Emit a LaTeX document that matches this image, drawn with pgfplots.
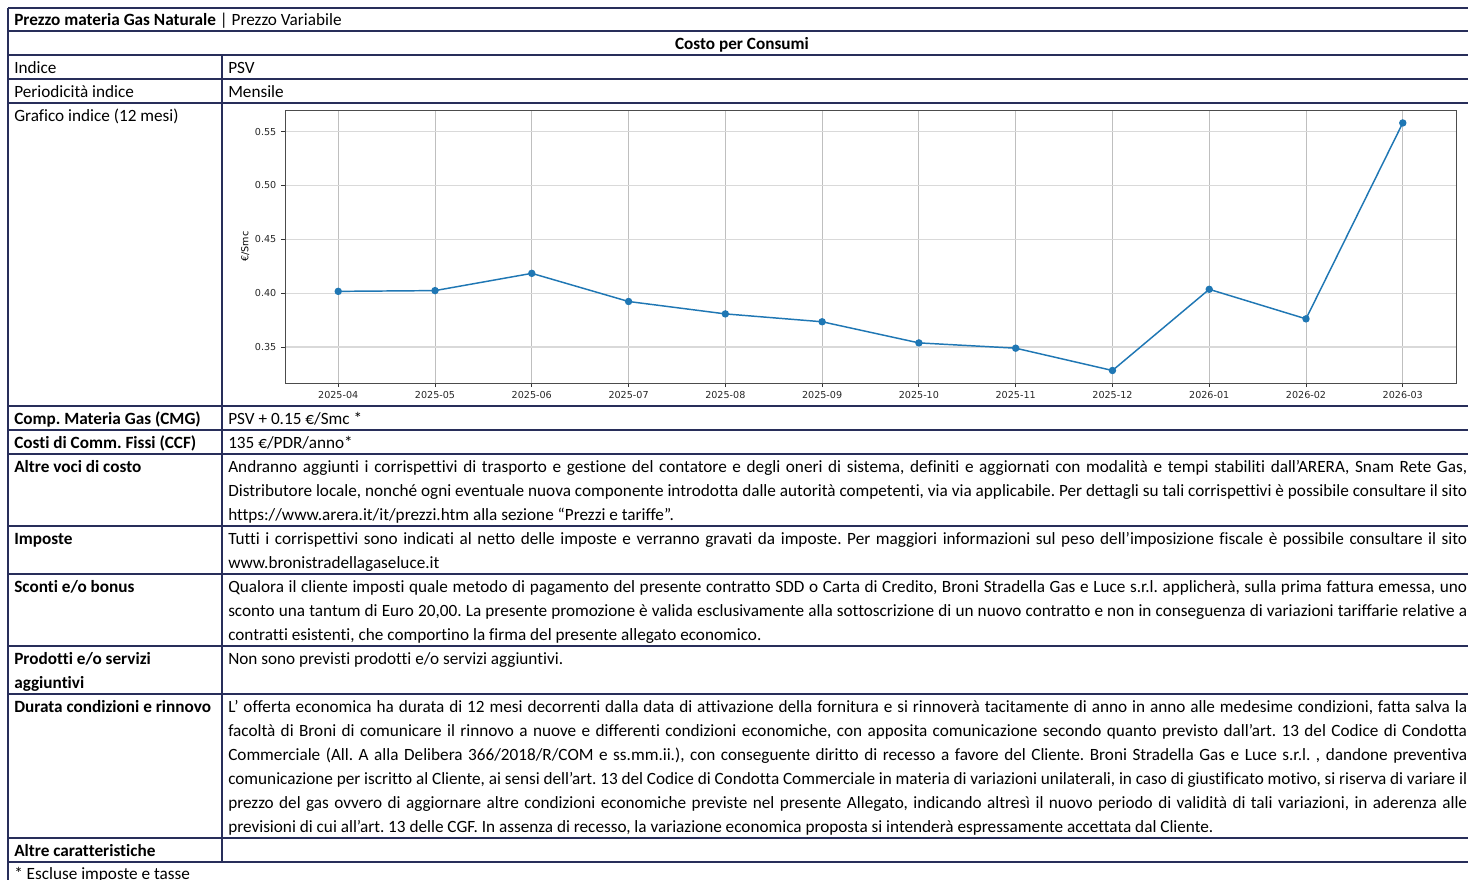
\documentclass[border=0pt]{standalone}
\usepackage{pgfplots}
\pgfplotsset{compat=1.18}
\usepackage{fontspec}
\setmainfont{Carlito}[Ligatures={NoCommon}]
\newfontfamily\djv{DejaVu Sans}
\definecolor{tl}{RGB}{40,46,90}
\definecolor{mplblue}{HTML}{1F77B4}
\newcommand\tx[3]{\node[anchor=base west,inner sep=0pt] at (#1,#2) {#3};}
\newcommand\jx[3]{\node[anchor=base west,inner sep=0pt] at (#1,#2) {\makebox[929.25pt][s]{#3}};}
\frenchspacing
\begin{document}
\frenchspacing
\begin{tikzpicture}[font=\fontsize{12.9pt}{15pt}\selectfont]
\useasboundingbox (0,0) rectangle (1101pt,-659.25pt);
\begin{scope}[x=0.75pt,y=-0.75pt]
\clip (0,0) rectangle (1468,879);
% table lines
\foreach \yy in {8,31,55,79,103,406,430,454,526,574,646,694,838,862}
  \draw[tl,line width=0.9pt] (8,\yy) -- (1470,\yy);
\draw[tl,line width=0.9pt] (8,8) -- (8,882);
\draw[tl,line width=0.9pt] (222,55) -- (222,862);
% texts
\tx{14}{25}{\textbf{Prezzo materia Gas Naturale} | Prezzo Variabile}
\node[anchor=base,inner sep=0pt] at (742,49) {\textbf{Costo per Consumi}};
\tx{14}{73}{Indice}\tx{228}{73}{PSV}
\tx{14}{97}{Periodicità indice}\tx{228}{97}{Mensile}
\tx{14}{121}{Grafico indice (12 mesi)}
\tx{14}{424}{\textbf{Comp. Materia Gas (CMG)}}\tx{228}{424}{PSV + 0.15 €/Smc *}
\tx{14}{448}{\textbf{Costi di Comm. Fissi (CCF)}}\tx{228}{448}{135 €/PDR/anno*}
\tx{14}{472}{\textbf{Altre voci di costo}}
\jx{228}{472}{Andranno aggiunti i corrispettivi di trasporto e gestione del contatore e degli oneri di sistema, definiti e aggiornati con modalità e tempi stabiliti dall’ARERA, Snam Rete Gas,}
\jx{228}{496}{Distributore locale, nonché ogni eventuale nuova componente introdotta dalle autorità competenti, via via applicabile. Per dettagli su tali corrispettivi è possibile consultare il sito}
\tx{228}{520}{https://www.arera.it/it/prezzi.htm alla sezione “Prezzi e tariffe”.}
\tx{14}{544}{\textbf{Imposte}}
\jx{228}{544}{Tutti i corrispettivi sono indicati al netto delle imposte e verranno gravati da imposte. Per maggiori informazioni sul peso dell’imposizione fiscale è possibile consultare il sito}
\tx{228}{568}{www.bronistradellagaseluce.it}
\tx{14}{592}{\textbf{Sconti e/o bonus}}
\jx{228}{592}{Qualora il cliente imposti quale metodo di pagamento del presente contratto SDD o Carta di Credito, Broni Stradella Gas e Luce s.r.l. applicherà, sulla prima fattura emessa, uno}
\jx{228}{616}{sconto una tantum di Euro 20,00. La presente promozione è valida esclusivamente alla sottoscrizione di un nuovo contratto e non in conseguenza di variazioni tariffarie relative a}
\tx{228}{640}{contratti esistenti, che comportino la firma del presente allegato economico.}
\tx{14}{664}{\textbf{Prodotti e/o servizi}}\tx{14}{688}{\textbf{aggiuntivi}}
\tx{228}{664}{Non sono previsti prodotti e/o servizi aggiuntivi.}
\tx{14}{712}{\textbf{Durata condizioni e rinnovo}}
\jx{228}{712}{L’ offerta economica ha durata di 12 mesi decorrenti dalla data di attivazione della fornitura e si rinnoverà tacitamente di anno in anno alle medesime condizioni, fatta salva la}
\jx{228}{736}{facoltà di Broni di comunicare il rinnovo a nuove e differenti condizioni economiche, con apposita comunicazione secondo quanto previsto dall’art. 13 del Codice di Condotta}
\jx{228}{760}{Commerciale (All. A alla Delibera 366/2018/R/COM e ss.mm.ii.), con conseguente diritto di recesso a favore del Cliente. Broni Stradella Gas e Luce s.r.l. , dandone preventiva}
\jx{228}{784}{comunicazione per iscritto al Cliente, ai sensi dell’art. 13 del Codice di Condotta Commerciale in materia di variazioni unilaterali, in caso di giustificato motivo, si riserva di variare il}
\jx{228}{808}{prezzo del gas ovvero di aggiornare altre condizioni economiche previste nel presente Allegato, indicando altresì il nuovo periodo di validità di tali variazioni, in aderenza alle}
\tx{228}{832}{previsioni di cui all’art. 13 delle CGF. In assenza di recesso, la variazione economica proposta si intenderà espressamente accettata dal Cliente.}
\tx{14}{856}{\textbf{Altre caratteristiche}}
\tx{14}{879}{* Escluse imposte e tasse}
\end{scope}
\begin{axis}[
  at={(213.75pt,-287.25pt)}, anchor=south west,
  scale only axis, width=878.25pt, height=204.75pt,
  xmin=-0.55, xmax=11.55, ymin=0.3168, ymax=0.570,
  xtick={0,...,11},
  xticklabels={2025-04,2025-05,2025-06,2025-07,2025-08,2025-09,2025-10,2025-11,2025-12,2026-01,2026-02,2026-03},
  ytick={0.35,0.40,0.45,0.50,0.55},
  yticklabels={0.35,0.40,0.45,0.50,0.55},
  tick align=outside, major tick length=3pt,
  xtick pos=bottom, ytick pos=left,
  tick style={black!80, line width=0.6pt},
  ticklabel style={font=\fontsize{7.2pt}{8pt}\djv, text=black!85},
  xmajorgrids, ymajorgrids,
  x grid style={gray!50, line width=0.6pt},
  y grid style={gray!30, line width=1.2pt},
  axis line style={black!70, line width=0.7pt},
  ylabel={€/Smc},
  ylabel style={font=\fontsize{7.2pt}{8pt}\djv, at={(axis description cs:-0.034,0.5)}, anchor=center},
  axis background/.style={fill=white},
]
\addplot[mplblue, line width=1.1pt, mark=*, mark size=2.2pt, mark options={solid, fill=mplblue, draw=mplblue}]
 coordinates {(0,0.4018) (1,0.4025) (2,0.4185) (3,0.3924) (4,0.3809) (5,0.3736) (6,0.3540) (7,0.3491) (8,0.3284) (9,0.4037) (10,0.3763) (11,0.5580)};
\end{axis}
\end{tikzpicture}
\end{document}
